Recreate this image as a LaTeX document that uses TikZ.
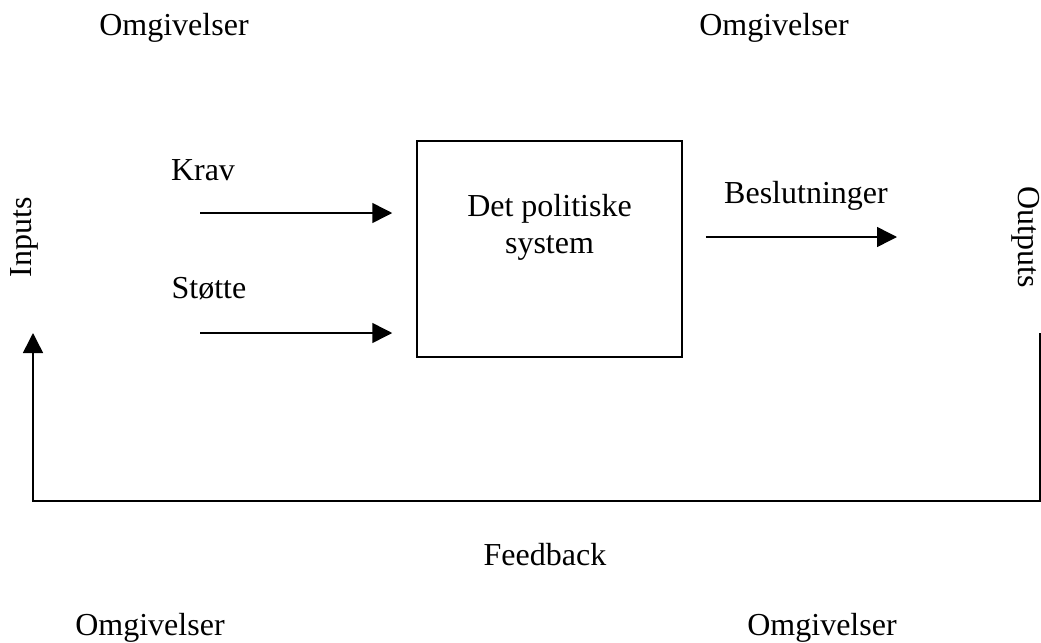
\documentclass[tikz,border=0pt]{standalone}
\usepackage{fontspec}
\setmainfont{Liberation Serif}
\usetikzlibrary{positioning}
\usetikzlibrary{arrows.meta}
\usetikzlibrary{calc}

\tikzset{
  pil/.style={line width=0.75pt, -{Triangle[length=10pt,width=10pt]}},
  linje/.style={line width=0.75pt},
  tekst/.style={inner sep=0pt, anchor=base},
}

\begin{document}
\begin{tikzpicture}[x=0.5pt,y=-0.5pt,font=\fontsize{16}{18.4}\selectfont]
  \useasboundingbox (0,0) rectangle (1041,643);

  % Omgivelser i hjornene
  \node[tekst] (omgVO) at (174,35) {Omgivelser};
  \node[tekst] (omgHO) at (774,35) {Omgivelser};
  \node[tekst] (omgVN) at (150,635) {Omgivelser};
  \node[tekst] (omgHN) at (822,635) {Omgivelser};

  % Systemet
  \node[linje, draw, minimum width=132.5pt, minimum height=108pt, inner sep=0pt] (sys) at (549.5,249) {};
  \node[inner sep=0pt, align=center, below=27pt of sys.north, anchor=north] (systekst) {Det politiske\\system};

  % Inputs
  \node[inner sep=0pt, rotate=90] (inputs) at (24,237) {Inputs};
  \node[tekst] (krav) at (203,180) {Krav};
  \node[tekst] (stotte) at (209,298) {Støtte};
  \coordinate (kravA) at (200,213);
  \coordinate (stotteA) at (200,333);
  \draw[pil, shorten >=12pt] (kravA) -- (kravA -| sys.west);
  \draw[pil, shorten >=12pt] (stotteA) -- (stotteA -| sys.west);

  % Outputs
  \node[inner sep=0pt, rotate=-90] (outputs) at (1026,237) {Outputs};
  \node[tekst] (beslutn) at (806,203) {Beslutninger};
  \coordinate (beslB) at (897,237);
  \draw[pil, shorten <=11.5pt] (beslB -| sys.east) -- (beslB);

  % Feedback
  \coordinate (fbA) at (1040,333);
  \coordinate (fbB) at (33,333);
  \draw[pil] (fbA) -- ($(fbA)+(0,168)$) -| (fbB);
  \node[tekst] (feedback) at (545,565) {Feedback};
\end{tikzpicture}
\end{document}
